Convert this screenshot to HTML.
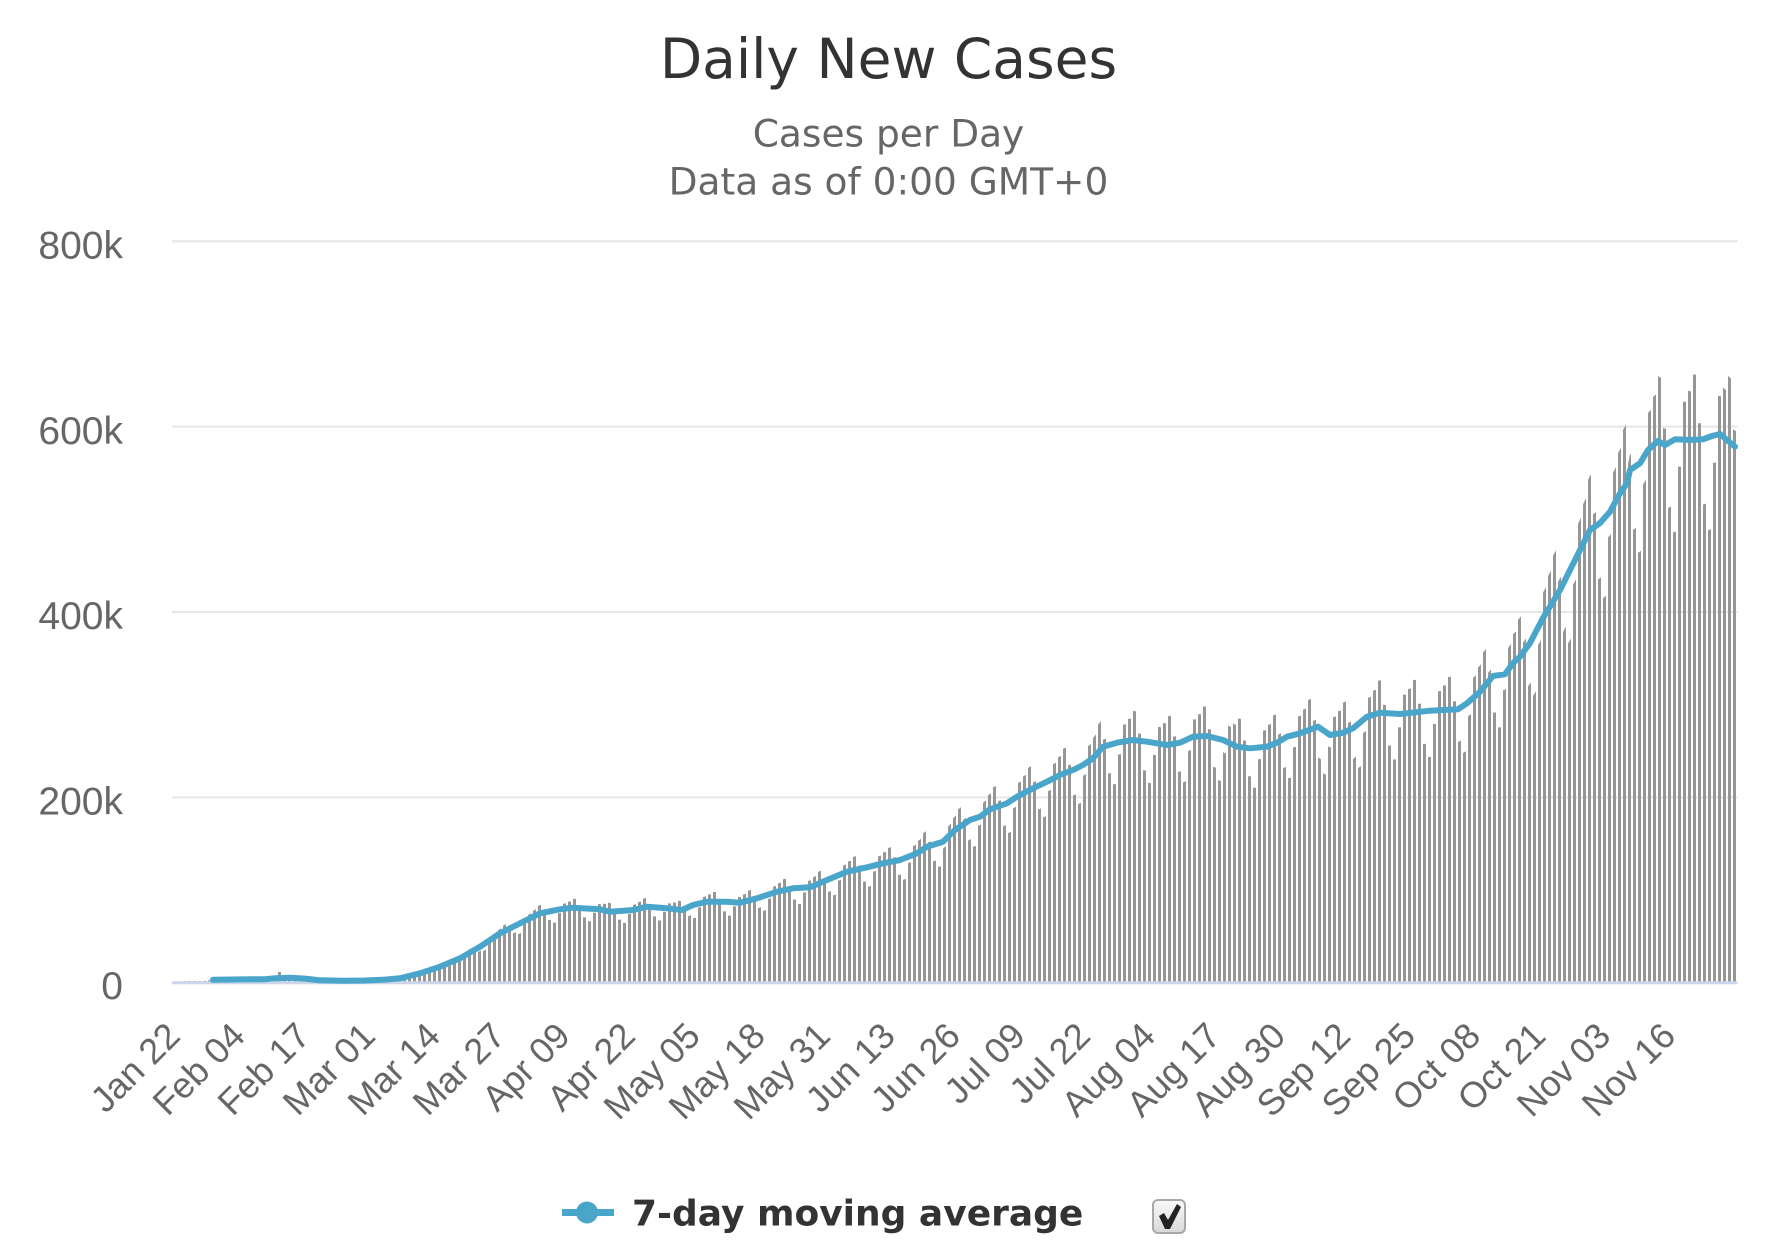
<!DOCTYPE html>
<html>
<head>
<meta charset="utf-8">
<style>
html,body{margin:0;padding:0;background:#fff;width:1790px;height:1244px;overflow:hidden}
svg{display:block}
</style>
</head>
<body>
<svg width="1790" height="1244" viewBox="0 0 1790 1244" xmlns="http://www.w3.org/2000/svg">
<defs>
<path id="env" d="M172,982.7 L172,981.8 L195,981.2 L213,979.8 L240,979.4 L265,979.2 L275,978.2 L290,977.8 L305,978.6 L320,980.3 L345,980.8 L365,980.5 L385,979.6 L400,978.3 L420,973.3 L440,966.7 L460,958.3 L480,946.7 L500,933.3 L520,923.3 L540,913.3 L560,909.3 L573,907.7 L600,909.3 L610,911.7 L633,910 L647,906.7 L667,908.3 L682,910 L693,905 L707,901.7 L727,901.7 L740,902.7 L757,898.3 L777,891.7 L793,888.3 L810,887.3 L827,880 L847,871.7 L867,867.3 L883,863.3 L900,860 L917,853.3 L927,846.7 L943,841.7 L955,830 L970,820 L980,816.7 L990,809.3 L1007,803.3 L1017,796.7 L1033,788.3 L1047,781.7 L1060,775 L1073,770 L1083,765 L1093,758.3 L1103,746.7 L1117,742.7 L1133,740 L1147,741.7 L1167,745 L1180,742.7 L1193,736.7 L1207,736 L1223,740 L1237,746.7 L1250,748.3 L1267,746.7 L1277,742.7 L1287,736.7 L1300,733.3 L1318,726.7 L1330,735 L1343,732.7 L1353,728.3 L1367,716.7 L1380,712.7 L1400,714 L1430,710.7 L1458,709.3 L1467,703.3 L1480,691.7 L1493,676 L1505,674.3 L1513,663 L1520,656.7 L1530,643 L1543,618 L1560,590 L1577,556 L1590,530 L1600,523 L1610,511.7 L1620,493.3 L1627,483.3 L1630,470 L1640,463.3 L1648,450 L1658,441 L1665,445 L1675,439.3 L1690,440 L1703,439.3 L1712,436 L1720,434 L1727,440 L1735,446.7 L1737.5,448 L1737.5,982.7 Z"/>
<pattern id="p0" patternUnits="userSpaceOnUse" x="172" y="0" width="35" height="1300" shape-rendering="crispEdges">
<rect x="1" y="0" width="3" height="1300" fill="#969696"/><rect x="6" y="0" width="3" height="1300" fill="#969696"/><rect x="11" y="0" width="3" height="1300" fill="#969696"/><rect x="16" y="0" width="3" height="1300" fill="#969696"/><rect x="21" y="0" width="3" height="1300" fill="#969696"/><rect x="26" y="0" width="3" height="1300" fill="#969696"/><rect x="31" y="0" width="3" height="1300" fill="#969696"/>
</pattern>
<pattern id="p1" patternUnits="userSpaceOnUse" x="172" y="0" width="35" height="1300" shape-rendering="crispEdges">
<rect x="1" y="0" width="3" height="1300" fill="#969696"/><rect x="6" y="0" width="3" height="1300" fill="#969696"/><rect x="11" y="0" width="3" height="1300" fill="#969696"/><rect x="16" y="0" width="3" height="1300" fill="#969696"/><rect x="21" y="0" width="3" height="1300" fill="#969696"/><rect x="26" y="0" width="3" height="1300" fill="#969696"/>
</pattern>
<pattern id="p2" patternUnits="userSpaceOnUse" x="172" y="0" width="35" height="1300" shape-rendering="crispEdges">
<rect x="1" y="0" width="3" height="1300" fill="#969696"/><rect x="6" y="0" width="3" height="1300" fill="#969696"/><rect x="11" y="0" width="3" height="1300" fill="#969696"/><rect x="16" y="0" width="3" height="1300" fill="#969696"/><rect x="21" y="0" width="3" height="1300" fill="#969696"/>
</pattern>
<pattern id="p3" patternUnits="userSpaceOnUse" x="172" y="0" width="35" height="1300" shape-rendering="crispEdges">
<rect x="6" y="0" width="3" height="1300" fill="#969696"/><rect x="11" y="0" width="3" height="1300" fill="#969696"/><rect x="16" y="0" width="3" height="1300" fill="#969696"/><rect x="21" y="0" width="3" height="1300" fill="#969696"/>
</pattern>
<pattern id="p4" patternUnits="userSpaceOnUse" x="172" y="0" width="35" height="1300" shape-rendering="crispEdges">
<rect x="6" y="0" width="3" height="1300" fill="#969696"/><rect x="11" y="0" width="3" height="1300" fill="#969696"/><rect x="16" y="0" width="3" height="1300" fill="#969696"/>
</pattern>
<pattern id="p5" patternUnits="userSpaceOnUse" x="172" y="0" width="35" height="1300" shape-rendering="crispEdges">
<rect x="11" y="0" width="3" height="1300" fill="#969696"/><rect x="16" y="0" width="3" height="1300" fill="#969696"/>
</pattern>
<pattern id="p6" patternUnits="userSpaceOnUse" x="172" y="0" width="35" height="1300" shape-rendering="crispEdges">
<rect x="16" y="0" width="3" height="1300" fill="#969696"/>
</pattern>
<linearGradient id="cbg" x1="0" y1="0" x2="0" y2="1">
<stop offset="0" stop-color="#fafafa"/><stop offset="1" stop-color="#d9d9d9"/>
</linearGradient>
</defs>

<!-- Title -->
<text x="888.5" y="78" text-anchor="middle" font-family="'DejaVu Sans', 'Liberation Sans', sans-serif" font-size="55" fill="#333">Daily New Cases</text>
<text x="888.5" y="146.5" text-anchor="middle" font-family="'DejaVu Sans', 'Liberation Sans', sans-serif" font-size="37.5" fill="#666">Cases per Day</text>
<text x="888.5" y="194.3" text-anchor="middle" font-family="'DejaVu Sans', 'Liberation Sans', sans-serif" font-size="37.5" fill="#666">Data as of 0:00 GMT+0</text>

<!-- Grid lines -->
<g stroke="#e6e6e6" stroke-width="2">
<line x1="172" y1="241.3" x2="1737.5" y2="241.3"/>
<line x1="172" y1="426.65" x2="1737.5" y2="426.65"/>
<line x1="172" y1="612" x2="1737.5" y2="612"/>
<line x1="172" y1="797.35" x2="1737.5" y2="797.35"/>
</g>

<!-- Y labels -->
<g font-family="'Liberation Sans', sans-serif" font-size="39" fill="#666" text-anchor="end">
<text x="123" y="258.5">800k</text>
<text x="123" y="443.8">600k</text>
<text x="123" y="629.2">400k</text>
<text x="123" y="814.5">200k</text>
<text x="123" y="999">0</text>
</g>

<!-- Bars -->
<g>
<use href="#env" fill="url(#p0)" transform="translate(0,982.7) scale(1,0.83) translate(0,-982.7)"/>
<use href="#env" fill="url(#p1)" transform="translate(0,982.7) scale(1,0.88) translate(0,-982.7)"/>
<use href="#env" fill="url(#p2)" transform="translate(0,982.7) scale(1,0.95) translate(0,-982.7)"/>
<use href="#env" fill="url(#p3)" transform="translate(0,982.7) scale(1,1.03) translate(0,-982.7)"/>
<use href="#env" fill="url(#p4)" transform="translate(0,982.7) scale(1,1.07) translate(0,-982.7)"/>
<use href="#env" fill="url(#p5)" transform="translate(0,982.7) scale(1,1.09) translate(0,-982.7)"/>
<use href="#env" fill="url(#p6)" transform="translate(0,982.7) scale(1,1.12) translate(0,-982.7)"/>
<rect x="278" y="972" width="3" height="10.7" fill="#969696" shape-rendering="crispEdges"/>
</g>

<!-- Axis line -->
<line x1="172" y1="982.7" x2="1737.5" y2="982.7" stroke="#ccd6eb" stroke-width="3"/>

<!-- Moving average line -->
<path d="M213,979.8 L240,979.4 L265,979.2 L275,978.2 L290,977.8 L305,978.6 L320,980.3 L345,980.8 L365,980.5 L385,979.6 L400,978.3 L420,973.3 L440,966.7 L460,958.3 L480,946.7 L500,933.3 L520,923.3 L540,913.3 L560,909.3 L573,907.7 L600,909.3 L610,911.7 L633,910 L647,906.7 L667,908.3 L682,910 L693,905 L707,901.7 L727,901.7 L740,902.7 L757,898.3 L777,891.7 L793,888.3 L810,887.3 L827,880 L847,871.7 L867,867.3 L883,863.3 L900,860 L917,853.3 L927,846.7 L943,841.7 L955,830 L970,820 L980,816.7 L990,809.3 L1007,803.3 L1017,796.7 L1033,788.3 L1047,781.7 L1060,775 L1073,770 L1083,765 L1093,758.3 L1103,746.7 L1117,742.7 L1133,740 L1147,741.7 L1167,745 L1180,742.7 L1193,736.7 L1207,736 L1223,740 L1237,746.7 L1250,748.3 L1267,746.7 L1277,742.7 L1287,736.7 L1300,733.3 L1318,726.7 L1330,735 L1343,732.7 L1353,728.3 L1367,716.7 L1380,712.7 L1400,714 L1430,710.7 L1458,709.3 L1467,703.3 L1480,691.7 L1493,676 L1505,674.3 L1513,663 L1520,656.7 L1530,643 L1543,618 L1560,590 L1577,556 L1590,530 L1600,523 L1610,511.7 L1620,493.3 L1627,483.3 L1630,470 L1640,463.3 L1648,450 L1658,441 L1665,445 L1675,439.3 L1690,440 L1703,439.3 L1712,436 L1720,434 L1727,440 L1735,446.7" fill="none" stroke="#4aa5cb" stroke-width="6" stroke-linecap="round" stroke-linejoin="round"/>

<!-- X labels -->
<g font-family="'Liberation Sans', sans-serif" font-size="36" fill="#666" text-anchor="end">
<text transform="translate(182,1038) rotate(-45)">Jan 22</text>
<text transform="translate(247,1038) rotate(-45)">Feb 04</text>
<text transform="translate(312,1038) rotate(-45)">Feb 17</text>
<text transform="translate(377.1,1038) rotate(-45)">Mar 01</text>
<text transform="translate(442.1,1038) rotate(-45)">Mar 14</text>
<text transform="translate(507.1,1038) rotate(-45)">Mar 27</text>
<text transform="translate(572.1,1038) rotate(-45)">Apr 09</text>
<text transform="translate(637.2,1038) rotate(-45)">Apr 22</text>
<text transform="translate(702.2,1038) rotate(-45)">May 05</text>
<text transform="translate(767.2,1038) rotate(-45)">May 18</text>
<text transform="translate(832.2,1038) rotate(-45)">May 31</text>
<text transform="translate(897.2,1038) rotate(-45)">Jun 13</text>
<text transform="translate(962.3,1038) rotate(-45)">Jun 26</text>
<text transform="translate(1027.3,1038) rotate(-45)">Jul 09</text>
<text transform="translate(1092.3,1038) rotate(-45)">Jul 22</text>
<text transform="translate(1157.3,1038) rotate(-45)">Aug 04</text>
<text transform="translate(1222.4,1038) rotate(-45)">Aug 17</text>
<text transform="translate(1287.4,1038) rotate(-45)">Aug 30</text>
<text transform="translate(1352.4,1038) rotate(-45)">Sep 12</text>
<text transform="translate(1417.4,1038) rotate(-45)">Sep 25</text>
<text transform="translate(1482.4,1038) rotate(-45)">Oct 08</text>
<text transform="translate(1547.5,1038) rotate(-45)">Oct 21</text>
<text transform="translate(1612.5,1038) rotate(-45)">Nov 03</text>
<text transform="translate(1677.5,1038) rotate(-45)">Nov 16</text>
</g>

<!-- Legend -->
<line x1="562" y1="1212.5" x2="614" y2="1212.5" stroke="#4aa5cb" stroke-width="7"/>
<circle cx="587" cy="1212.5" r="11" fill="#4aa5cb"/>
<text x="632" y="1225.5" font-family="'DejaVu Sans', 'Liberation Sans', sans-serif" font-weight="bold" font-size="36" fill="#333">7-day moving average</text>
<rect x="1153" y="1200" width="32" height="33" rx="5" fill="url(#cbg)" stroke="#a8a8a8" stroke-width="2"/>
<path d="M1159,1216 L1164,1213 L1168,1220 L1177,1204 L1181,1207 L1170,1229 L1165,1229 Z" fill="#222"/>
</svg>
</body>
</html>
